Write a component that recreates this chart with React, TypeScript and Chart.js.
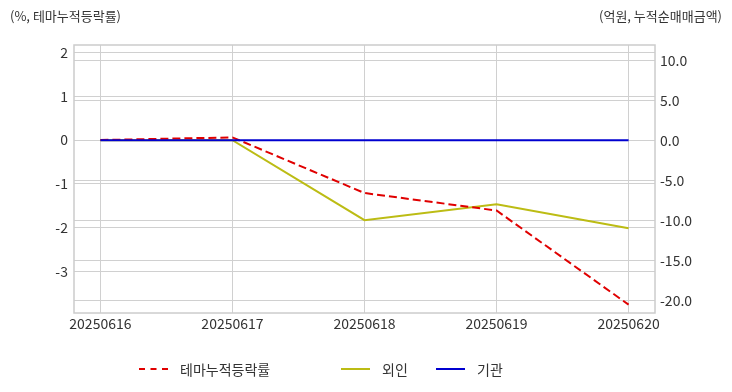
import React, { useEffect, useRef } from "react";
import { Chart, registerables } from "chart.js";

Chart.register(...registerables);

const categories = ["20250616", "20250617", "20250618", "20250619", "20250620"];
const themeReturn = [0, 0.06, -1.21, -1.61, -3.76];
const foreignNet = [0, 0, -10.0, -8.0, -11.0];
const institutionNet = [0, 0, 0, 0, 0];
const leftTitle = "(%, 테마누적등락률)";
const rightTitle = "(억원, 누적순매매금액)";
const seriesNames = ["테마누적등락률", "외인", "기관"];
const seriesColors = ["#e00000", "#bcbc14", "#0000d0"];

const FONT = "'Noto Sans CJK KR', 'Noto Sans', sans-serif";

export default function App() {
  const ref = useRef<HTMLCanvasElement | null>(null);

  useEffect(() => {
    if (!ref.current) return;
    const frame = {
      id: "frame",
      afterDraw(chart: any) {
        const { ctx, chartArea } = chart;
        ctx.save();
        ctx.strokeStyle = "#cccccc";
        ctx.lineWidth = 1.5;
        ctx.strokeRect(chartArea.left, chartArea.top, chartArea.right - chartArea.left, chartArea.bottom - chartArea.top);
        ctx.restore();
      },
    };
    const toPts = (arr: number[]) => arr.map((v, i) => ({ x: i, y: v }));
    const chart = new Chart(ref.current, {
      type: "line",
      data: {
        datasets: [
          {
            label: seriesNames[0],
            data: toPts(themeReturn),
            borderColor: seriesColors[0],
            backgroundColor: seriesColors[0],
            borderDash: [8, 4],
            borderWidth: 2,
            pointRadius: 0,
            yAxisID: "y",
            order: 1,
          },
          {
            label: seriesNames[1],
            data: toPts(foreignNet),
            borderColor: seriesColors[1],
            backgroundColor: seriesColors[1],
            borderWidth: 2,
            pointRadius: 0,
            yAxisID: "y1",
            order: 2,
          },
          {
            label: seriesNames[2],
            data: toPts(institutionNet),
            borderColor: seriesColors[2],
            backgroundColor: seriesColors[2],
            borderWidth: 2,
            pointRadius: 0,
            yAxisID: "y1",
            order: 0,
          },
        ],
      },
      options: {
        animation: false,
        responsive: false,
        maintainAspectRatio: false,
        layout: { padding: { top: 45, bottom: 59, left: 0, right: 0 } },
        plugins: {
          legend: { display: false },
          tooltip: { enabled: false },
        },
        scales: {
          x: {
            type: "linear",
            min: -0.2,
            max: 4.2,
            afterFit: (s: any) => { s.height = 20; },
            afterBuildTicks: (s: any) => {
              s.ticks = categories.map((_, i) => ({ value: i }));
            },
            ticks: {
              callback: (v: any) => categories[Number(v)] ?? "",
              color: "#333",
              font: { family: FONT, size: 14 },
              padding: 2,
              maxRotation: 0,
              autoSkip: false,
            },
            grid: { color: "#d0d0d0", drawTicks: false, lineWidth: 1 },
            border: { display: false },
          },
          y: {
            position: "left",
            min: -3.95,
            max: 2.17,
            afterFit: (s: any) => { s.width = 74; },
            afterBuildTicks: (s: any) => {
              s.ticks = [2, 1, 0, -1, -2, -3].map((v) => ({ value: v }));
            },
            ticks: {
              color: "#333",
              font: { family: FONT, size: 14 },
              padding: 6,
              callback: (v: any) => String(v),
            },
            grid: { color: "#d0d0d0", drawTicks: false },
            border: { display: false },
          },
          y1: {
            position: "right",
            min: -21.6,
            max: 11.9,
            afterFit: (s: any) => { s.width = 77; },
            afterBuildTicks: (s: any) => {
              s.ticks = [10, 5, 0, -5, -10, -15, -20].map((v) => ({ value: v }));
            },
            ticks: {
              color: "#333",
              font: { family: FONT, size: 14 },
              padding: 5,
              callback: (v: any) => Number(v).toFixed(1),
            },
            grid: { color: "#d0d0d0", drawTicks: false },
            border: { display: false },
          },
        },
      },
      plugins: [frame],
    } as any);
    return () => chart.destroy();
  }, []);

  const legendItems = [
    { left: 139, dashed: true },
    { left: 341, dashed: false },
    { left: 436, dashed: false },
  ];

  return (
    <div style={{ position: "fixed", left: 0, top: 0, width: 732, height: 392, background: "#fff", fontFamily: FONT }}>
      <canvas ref={ref} width={732} height={392} style={{ position: "absolute", left: 0, top: 0, width: 732, height: 392 }} />
      <div style={{ position: "absolute", left: 10, top: 6, fontSize: 13, color: "#333", whiteSpace: "nowrap" }}>{leftTitle}</div>
      <div style={{ position: "absolute", right: 10, top: 6, fontSize: 13, color: "#333", whiteSpace: "nowrap" }}>{rightTitle}</div>
      {legendItems.map((it, i) => (
        <div key={i} style={{ position: "absolute", left: it.left, top: 359, height: 20, display: "flex", alignItems: "center", whiteSpace: "nowrap" }}>
          <span
            style={{
              display: "inline-block",
              width: 29,
              height: 0,
              borderTop: `2px ${it.dashed ? "dashed" : "solid"} ${seriesColors[i]}`,
              marginRight: 12,
            }}
          />
          <span style={{ fontSize: 14, color: "#333" }}>{seriesNames[i]}</span>
        </div>
      ))}
    </div>
  );
}
